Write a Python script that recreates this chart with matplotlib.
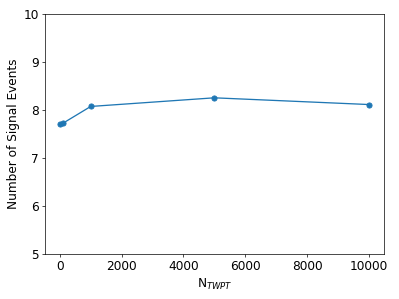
import matplotlib
matplotlib.use('Agg')
import matplotlib.pyplot as plt

n_twpt = [10, 100, 1000, 5000, 10000]
signal_events = [7.71, 7.72, 8.07, 8.25, 8.11]

plt.rcParams['font.size'] = 14

# 6.4x4.8 in figure rendered small -> 399x299 px
fig = plt.figure(figsize=(6.4, 4.8), dpi=399 / 6.4)
ax = fig.add_axes([0.112, 0.151, 0.851, 0.802])

ax.plot(n_twpt, signal_events, 'o-', color='#1f77b4')

ax.set_ylim(5, 10)
ax.set_xlabel('N$_{TWPT}$')
ax.set_ylabel('Number of Signal Events')

fig.savefig('out.png', dpi=399 / 6.4)
